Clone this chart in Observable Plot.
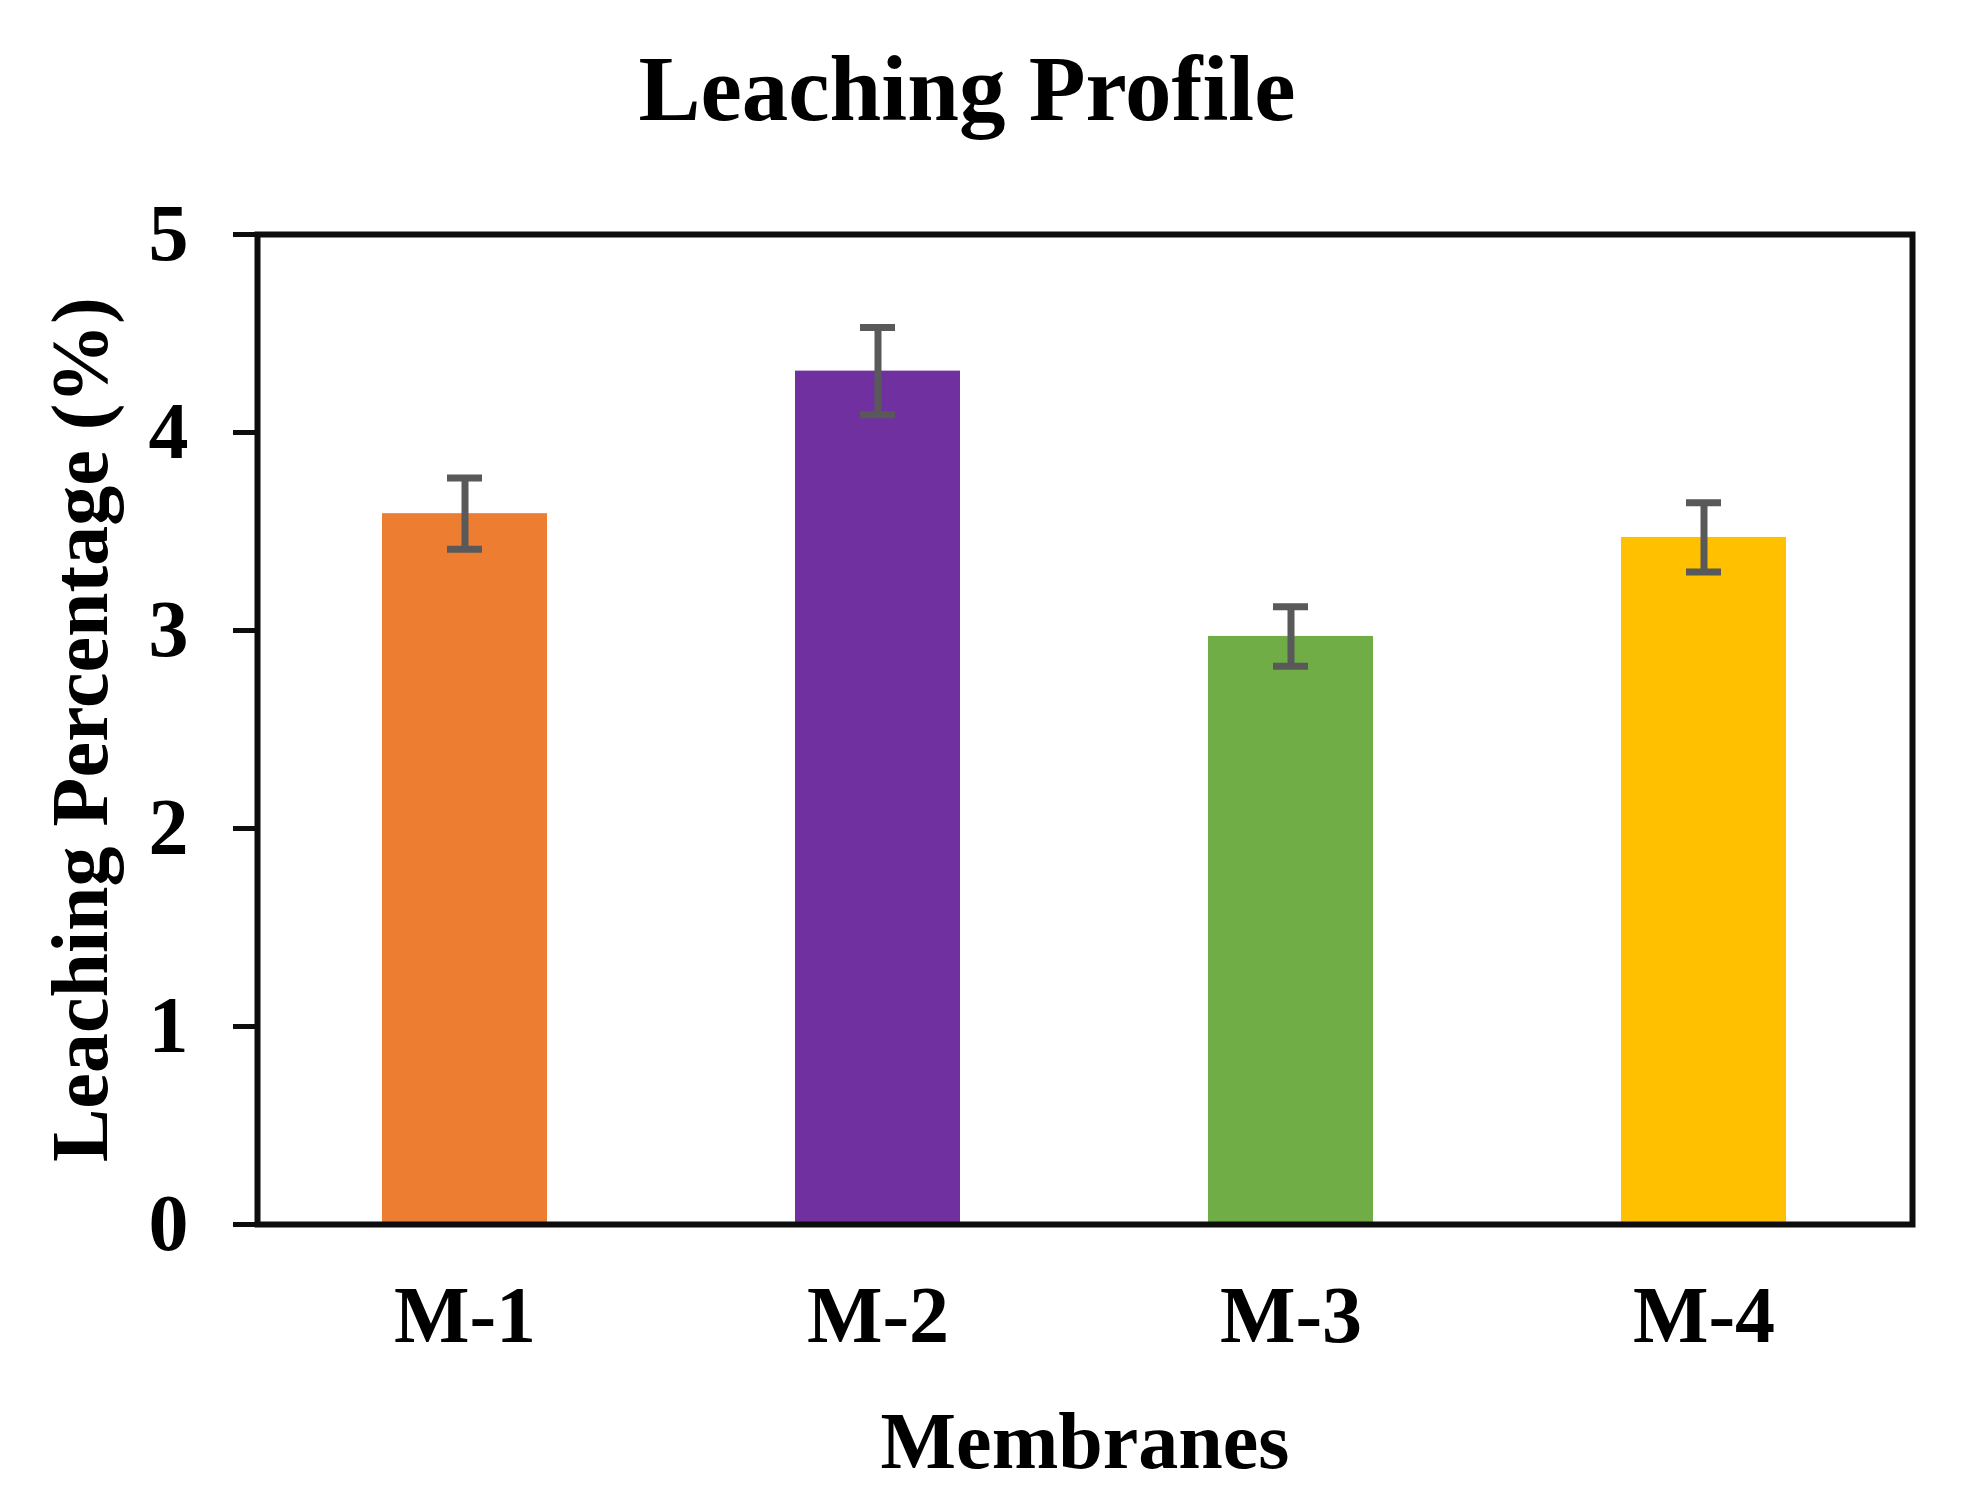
<!DOCTYPE html>
<html>
<head>
<meta charset="utf-8">
<script src="https://cdn.jsdelivr.net/npm/d3@7"></script>
<script src="https://cdn.jsdelivr.net/npm/@observablehq/plot@0.6"></script>
<style>
  html, body { margin: 0; padding: 0; background: #ffffff; }
  #chart svg { display: block; }
</style>
</head>
<body>
<div id="chart"></div>
<script>
const categories = ["M-1", "M-2", "M-3", "M-4"];
const values = [3.59, 4.31, 2.97, 3.47];
const errors = [0.18, 0.22, 0.15, 0.175];
const barColors = ["#ED7D31", "#7030A0", "#70AD47", "#FFC000"];
const yTicks = [0, 1, 2, 3, 4, 5];
const titleText = "Leaching Profile";
const yLabel = "Leaching Percentage (%)";
const xLabel = "Membranes";

const data = categories.map((c, i) => ({
  membrane: c,
  value: values[i],
  lo: values[i] - errors[i],
  hi: values[i] + errors[i]
}));

const font = "'Liberation Serif', 'Times New Roman', serif";

const chart = Plot.plot({
  width: 1963,
  height: 1508,
  marginLeft: 257,
  marginRight: 51,
  marginTop: 234,
  marginBottom: 284,
  style: { fontFamily: font, fontWeight: "bold", background: "#ffffff", color: "#000000", overflow: "visible" },
  x: { domain: categories, paddingInner: 0.6, paddingOuter: 0.3, label: null },
  y: { domain: [0, 5], label: null },
  color: { domain: categories, range: barColors },
  marks: [
    Plot.barY(data, { x: "membrane", y: "value", fill: "membrane" }),
    Plot.ruleX(data, { x: "membrane", y1: "lo", y2: "hi", stroke: "#595959", strokeWidth: 7 }),
    Plot.tickY(data, { x: "membrane", y: "lo", stroke: "#595959", strokeWidth: 7, insetLeft: 65, insetRight: 65 }),
    Plot.tickY(data, { x: "membrane", y: "hi", stroke: "#595959", strokeWidth: 7, insetLeft: 65, insetRight: 65 }),
    Plot.frame({ stroke: "#0d0d0d", strokeWidth: 6 }),
    Plot.axisY({ ticks: yTicks, tickSize: 24, tickPadding: 45, stroke: "#0d0d0d", strokeWidth: 5, fontSize: 80, fontWeight: "bold", fill: "#000000", label: null, tickFormat: d3.format("d") }),
    Plot.axisX({ tickSize: 0, tickPadding: 61, fontSize: 80, fontWeight: "bold", fill: "#000000", label: null }),
    Plot.text([titleText], { text: d => d, frameAnchor: "top", textAnchor: "middle", lineAnchor: "bottom", dx: -118, dy: -115, fontSize: 93, fontWeight: "bold", fill: "#000000" }),
    Plot.text([yLabel], { text: d => d, frameAnchor: "left", textAnchor: "middle", lineAnchor: "middle", rotate: -90, dx: -176, fontSize: 80, fontWeight: "bold", fill: "#000000" }),
    Plot.text([xLabel], { text: d => d, frameAnchor: "bottom", textAnchor: "middle", lineAnchor: "bottom", dy: 243, fontSize: 80, fontWeight: "bold", fill: "#000000" })
  ]
});

document.getElementById("chart").appendChild(chart);
</script>
</body>
</html>
